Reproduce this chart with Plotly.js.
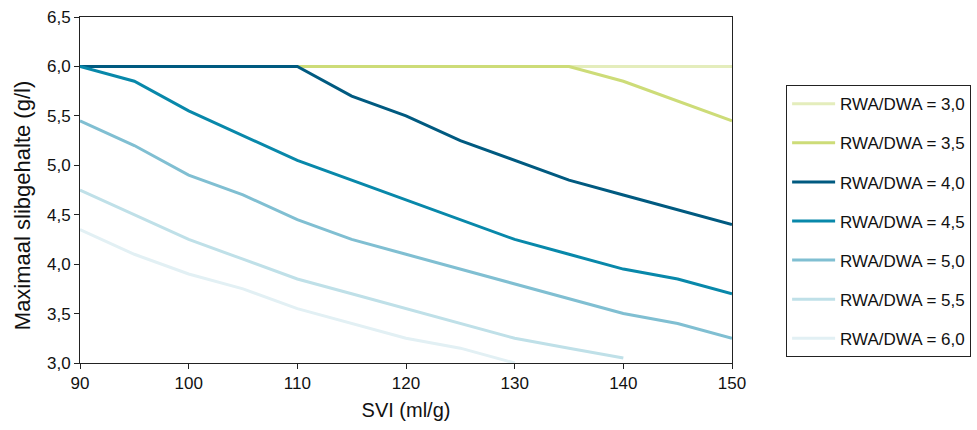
<!DOCTYPE html>
<html>
<head>
<meta charset="utf-8">
<script src="https://cdn.plot.ly/plotly-3.0.1.min.js"></script>
<style>html,body{margin:0;padding:0;background:#fff;}#chart{width:977px;height:430px;}</style>
</head>
<body>
<div id="chart"></div>
<script>
const svi = [90, 95, 100, 105, 110, 115, 120, 125, 130, 135, 140, 145, 150];
const seriesNames = ["RWA/DWA = 3,0", "RWA/DWA = 3,5", "RWA/DWA = 4,0", "RWA/DWA = 4,5", "RWA/DWA = 5,0", "RWA/DWA = 5,5", "RWA/DWA = 6,0"];
const rwa30 = [6.0, 6.0, 6.0, 6.0, 6.0, 6.0, 6.0, 6.0, 6.0, 6.0, 6.0, 6.0, 6.0];
const rwa35 = [6.0, 6.0, 6.0, 6.0, 6.0, 6.0, 6.0, 6.0, 6.0, 6.0, 5.85, 5.65, 5.45];
const rwa40 = [6.0, 6.0, 6.0, 6.0, 6.0, 5.7, 5.5, 5.25, 5.05, 4.85, 4.7, 4.55, 4.4];
const rwa45 = [6.0, 5.85, 5.55, 5.3, 5.05, 4.85, 4.65, 4.45, 4.25, 4.1, 3.95, 3.85, 3.7];
const rwa50 = [5.45, 5.2, 4.9, 4.7, 4.45, 4.25, 4.1, 3.95, 3.8, 3.65, 3.5, 3.4, 3.25];
const rwa55 = [4.75, 4.5, 4.25, 4.05, 3.85, 3.7, 3.55, 3.4, 3.25, 3.15, 3.05];
const rwa60 = [4.35, 4.1, 3.9, 3.75, 3.55, 3.4, 3.25, 3.15, 3.0];
const seriesValues = [rwa30, rwa35, rwa40, rwa45, rwa50, rwa55, rwa60];
const colors = ["#e4edbc", "#cddc78", "#005a80", "#0888aa", "#80bfd2", "#bfe0e8", "#e2f0f4"];
const yTicks = [3.0, 3.5, 4.0, 4.5, 5.0, 5.5, 6.0, 6.5];
const xTicks = [90, 100, 110, 120, 130, 140, 150];
const xTitle = "SVI (ml/g)";
const yTitle = "Maximaal slibgehalte (g/l)";

const traces = seriesNames.map((name, i) => ({
  type: "scatter",
  mode: "lines",
  name: name,
  legendgroup: "g" + i,
  x: svi.slice(0, seriesValues[i].length),
  y: seriesValues[i],
  line: {color: colors[i], width: 3},
  hoverinfo: "skip"
}));

const fam = "Liberation Sans, Arial, sans-serif";
const layout = {
  width: 977, height: 430,
  margin: {l: 80, r: 245, t: 17, b: 67, autoexpand: false},
  paper_bgcolor: "#fff", plot_bgcolor: "#fff",
  separators: ",.",
  font: {family: fam, size: 17, color: "#111"},
  showlegend: true,
  xaxis: {
    range: [90, 150], tickvals: xTicks, ticktext: xTicks.map(String),
    ticks: "outside", ticklen: 5, tickcolor: "#222", tickwidth: 1,
    showline: true, linecolor: "#222", linewidth: 1, mirror: true,
    showgrid: false, zeroline: false,
    tickfont: {family: fam, size: 17, color: "#111"},
    title: {text: xTitle, font: {family: fam, size: 20, color: "#111"}, standoff: 10}
  },
  yaxis: {
    range: [3.0, 6.5], tickvals: yTicks, tickformat: ".1f",
    ticks: "outside", ticklen: 5, tickcolor: "#222", tickwidth: 1,
    showline: true, linecolor: "#222", linewidth: 1, mirror: true,
    showgrid: false, zeroline: false,
    tickfont: {family: fam, size: 17, color: "#111"}
  },
  annotations: [{
    text: yTitle, textangle: -90, showarrow: false,
    xref: "paper", yref: "paper", x: -0.088, y: 0.455,
    xanchor: "center", yanchor: "middle",
    font: {family: fam, size: 22, color: "#111"}
  }],
  legend: {
    x: 1.083, xanchor: "left", y: 0.803, yanchor: "top",
    bordercolor: "#222", borderwidth: 1, bgcolor: "#fff",
    traceorder: "grouped", tracegroupgap: 14,
    font: {family: fam, size: 17, color: "#111"},
    itemwidth: 43
  }
};
Plotly.newPlot("chart", traces, layout, {displayModeBar: false, staticPlot: true});
</script>
</body>
</html>
